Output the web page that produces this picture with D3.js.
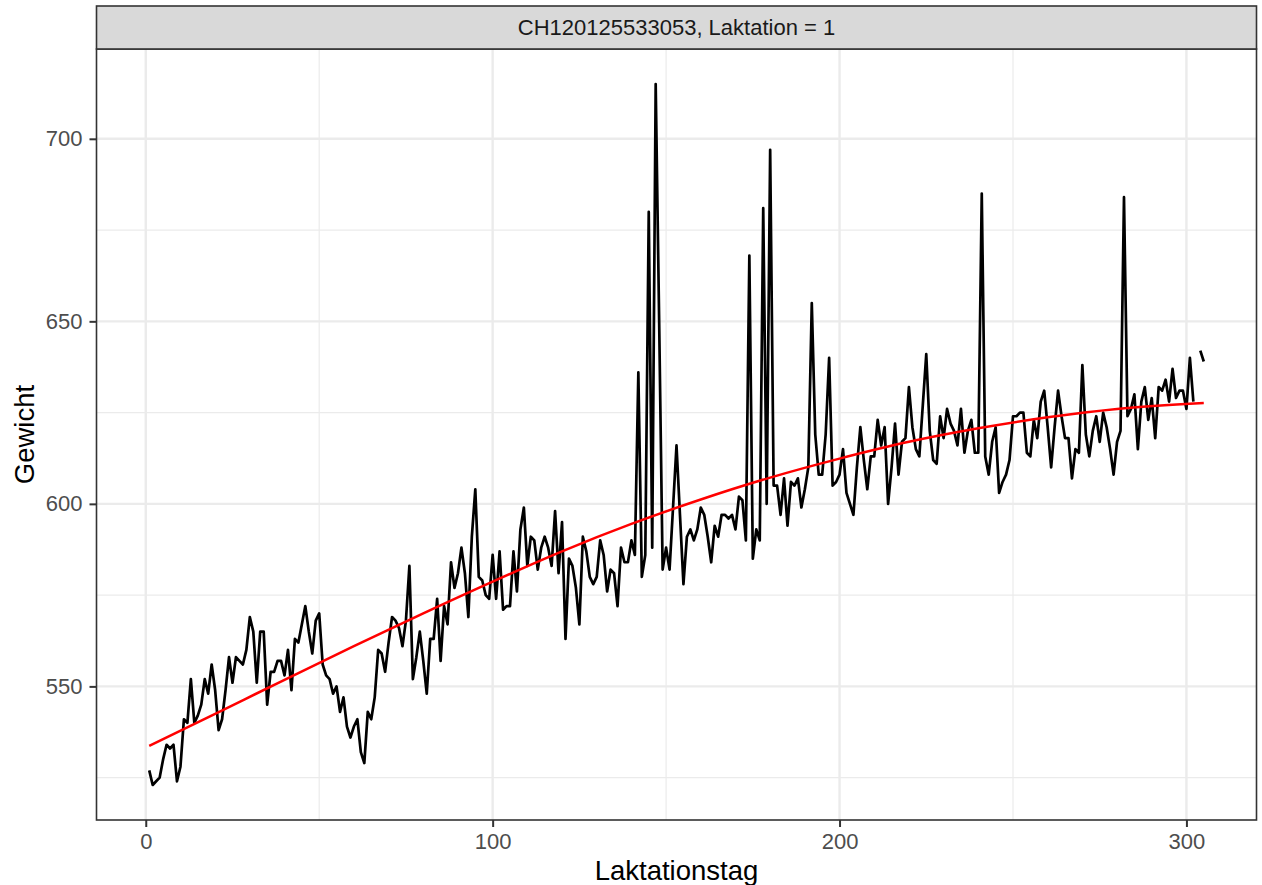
<!DOCTYPE html>
<html>
<head>
<meta charset="utf-8">
<script src="https://cdn.jsdelivr.net/npm/d3@7"></script>
<style>
  html, body { margin: 0; padding: 0; background: #ffffff; }
  svg { display: block; font-family: "Liberation Sans", Arial, sans-serif; }
</style>
</head>
<body>
<svg id="chart" width="1262" height="885"></svg>
<script>
// Facet label and axis titles
const stripLabel = "CH120125533053, Laktation = 1";
const xTitle = "Laktationstag";
const yTitle = "Gewicht";

// Daily body weight (kg), first lactation day = 1; null = no measurement
const firstDay = 1;
const weights = [
  527, 523, 524, 525, 530, 534, 533, 534, 524, 528,
  541, 540, 552, 540, 542, 545, 552, 548, 556, 549,
  538, 541, 549, 558, 551, 558, 557, 556, 560, 569,
  565, 551, 565, 565, 545, 554, 554, 557, 557, 553,
  560, 549, 563, 562, 567, 572, 565, 559, 568, 570,
  556, 553, 552, 548, 550, 543, 547, 539, 536, 539,
  541, 532, 529, 543, 541, 547, 560, 559, 554, 562,
  569, 568, 566, 561, 568, 583, 552, 558, 565, 557,
  548, 563, 563, 574, 557, 572, 567, 584, 577, 581,
  588, 581, 569, 591, 604, 580, 579, 575, 574, 586,
  574, 587, 571, 572, 572, 587, 576, 593, 599, 583,
  591, 590, 582, 588, 591, 588, 583, 598, 581, 595,
  563, 585, 583, 577, 567, 591, 587, 580, 578, 580,
  590, 586, 576, 582, 581, 572, 588, 584, 584, 590,
  586, 636, 580, 586, 680, 588, 715, 650, 582, 588,
  582, 599, 616, 597, 578, 591, 593, 590, 593, 599,
  597, 591, 584, 594, 591, 597, 597, 596, 597, 593,
  602, 601, 590, 668, 585, 593, 590, 681, 600, 697,
  605, 605, 597, 607, 594, 606, 605, 607, 599, 604,
  610, 655, 619, 608, 608, 619, 640, 605, 606, 608,
  615, 603, 600, 597, 610, 621, 612, 604, 613, 613,
  623, 616, 621, 600, 610, 622, 608, 617, 618, 632,
  621, 615, 613, 627, 641, 620, 612, 611, 624, 618,
  626, 622, 620, 616, 626, 614, 620, 623, 614, 614,
  685, 613, 608, 617, 621, 603, 606, 608, 612, 624,
  624, 625, 625, 614, 613, 623, 618, 628, 631, 621,
  610, 621, 631, 624, 618, 618, 607, 615, 614, 638,
  619, 613, 620, 624, 617, 625, 621, 615, 608, 617,
  620, 684, 624, 626, 630, 615, 628, 632, 623, 629,
  618, 632, 631, 634, 628, 637, 629, 631, 631, 626,
  640, 628, null, 642, 639
];

// Fitted lactation curve, sampled along the lactation
const fitDays   = [1, 20, 40, 60, 80, 100, 120, 140, 160, 180, 200, 220, 240, 260, 280, 305];
const fitValues = [533.7, 542.5, 551.8, 561, 570, 578.7, 587, 594.5, 601.2, 607.2, 612.4, 617, 620.7, 623.7, 626, 627.6];

// Axis breaks
const xMajor = [0, 100, 200, 300];
const xMinor = [50, 150, 250];
const yMajor = [550, 600, 650, 700];
const yMinor = [525, 575, 625, 675];

const series = weights.map((v, i) => ({ day: firstDay + i, w: v }));
const fit = fitDays.map((d, i) => ({ day: d, w: fitValues[i] }));

// Panel geometry
const panel = { left: 96.5, right: 1256.5, top: 49, bottom: 820 };
const strip = { top: 6, bottom: 49 };

const svg = d3.select("#chart");

// Scales with 5% expansion of the data range on each side
const xExt = d3.extent(series, d => d.day);
const xPad = (xExt[1] - xExt[0]) * 0.05;
const x = d3.scaleLinear()
  .domain([xExt[0] - xPad, xExt[1] + xPad])
  .range([panel.left, panel.right]);

const yExt = d3.extent(series.filter(d => d.w != null), d => d.w);
const yPad = (yExt[1] - yExt[0]) * 0.05;
const y = d3.scaleLinear()
  .domain([yExt[0] - yPad, yExt[1] + yPad])
  .range([panel.bottom, panel.top]);

// Panel background
svg.append("rect")
  .attr("x", panel.left).attr("y", panel.top)
  .attr("width", panel.right - panel.left)
  .attr("height", panel.bottom - panel.top)
  .attr("fill", "#ffffff");

// Grid lines
const grid = svg.append("g");
grid.selectAll(".ymin").data(yMinor).enter().append("line")
  .attr("x1", panel.left).attr("x2", panel.right)
  .attr("y1", d => y(d)).attr("y2", d => y(d))
  .attr("stroke", "#EBEBEB").attr("stroke-width", 1.2);
grid.selectAll(".xmin").data(xMinor).enter().append("line")
  .attr("y1", panel.top).attr("y2", panel.bottom)
  .attr("x1", d => x(d)).attr("x2", d => x(d))
  .attr("stroke", "#EBEBEB").attr("stroke-width", 1.2);
grid.selectAll(".ymaj").data(yMajor).enter().append("line")
  .attr("x1", panel.left).attr("x2", panel.right)
  .attr("y1", d => y(d)).attr("y2", d => y(d))
  .attr("stroke", "#EBEBEB").attr("stroke-width", 2.4);
grid.selectAll(".xmaj").data(xMajor).enter().append("line")
  .attr("y1", panel.top).attr("y2", panel.bottom)
  .attr("x1", d => x(d)).attr("x2", d => x(d))
  .attr("stroke", "#EBEBEB").attr("stroke-width", 2.4);

// Weight line (gaps where a day has no measurement)
const line = d3.line()
  .defined(d => d.w != null)
  .x(d => x(d.day))
  .y(d => y(d.w));

svg.append("path")
  .datum(series)
  .attr("d", line)
  .attr("fill", "none")
  .attr("stroke", "#000000")
  .attr("stroke-width", 2.7)
  .attr("stroke-linejoin", "round");

// Fitted curve
const fitLine = d3.line()
  .x(d => x(d.day))
  .y(d => y(d.w))
  .curve(d3.curveMonotoneX);

svg.append("path")
  .datum(fit)
  .attr("d", fitLine)
  .attr("fill", "none")
  .attr("stroke", "#FF0000")
  .attr("stroke-width", 2.5);

// Panel border
svg.append("rect")
  .attr("x", panel.left).attr("y", panel.top)
  .attr("width", panel.right - panel.left)
  .attr("height", panel.bottom - panel.top)
  .attr("fill", "none")
  .attr("stroke", "#333333")
  .attr("stroke-width", 1.6);

// Facet strip
svg.append("rect")
  .attr("x", panel.left).attr("y", strip.top)
  .attr("width", panel.right - panel.left)
  .attr("height", strip.bottom - strip.top)
  .attr("fill", "#D9D9D9")
  .attr("stroke", "#333333")
  .attr("stroke-width", 1.6);

svg.append("text")
  .attr("x", (panel.left + panel.right) / 2)
  .attr("y", (strip.top + strip.bottom) / 2 + 7.8)
  .attr("text-anchor", "middle")
  .attr("font-size", 22)
  .attr("fill", "#1A1A1A")
  .text(stripLabel);

// Axes
const xAxis = d3.axisBottom(x).tickValues(xMajor).tickSize(7).tickPadding(6);
const gx = svg.append("g")
  .attr("transform", `translate(0,${panel.bottom})`)
  .call(xAxis);
gx.select(".domain").remove();
gx.selectAll(".tick line").attr("stroke", "#333333").attr("stroke-width", 2);
gx.selectAll(".tick text")
  .attr("font-size", 22)
  .attr("font-family", "Liberation Sans, Arial, sans-serif")
  .attr("fill", "#4D4D4D");

const yAxis = d3.axisLeft(y).tickValues(yMajor).tickSize(7).tickPadding(7);
const gy = svg.append("g")
  .attr("transform", `translate(${panel.left},0)`)
  .call(yAxis);
gy.select(".domain").remove();
gy.selectAll(".tick line").attr("stroke", "#333333").attr("stroke-width", 2);
gy.selectAll(".tick text")
  .attr("font-size", 22)
  .attr("font-family", "Liberation Sans, Arial, sans-serif")
  .attr("fill", "#4D4D4D");

// Axis titles
svg.append("text")
  .attr("x", (panel.left + panel.right) / 2)
  .attr("y", 880)
  .attr("text-anchor", "middle")
  .attr("font-size", 27.5)
  .attr("fill", "#000000")
  .text(xTitle);

svg.append("text")
  .attr("transform", `translate(34,${(panel.top + panel.bottom) / 2}) rotate(-90)`)
  .attr("text-anchor", "middle")
  .attr("font-size", 27.5)
  .attr("fill", "#000000")
  .text(yTitle);
</script>
</body>
</html>
